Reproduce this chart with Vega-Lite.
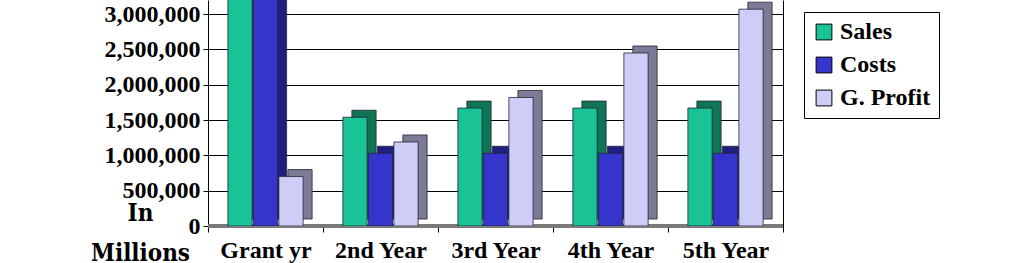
{
  "$schema": "https://vega.github.io/schema/vega-lite/v6.json",
  "width": 575,
  "height": 226,
  "autosize": {"type": "none"},
  "padding": {"left": 208, "top": 0, "right": 241, "bottom": 37},
  "background": "white",
  "config": {"view": {"stroke": null}, "font": "Liberation Serif"},
  "datasets": {
    "rows": [
      {"year": "Grant yr", "series": "Sales", "value": 3600000},
      {"year": "Grant yr", "series": "Costs", "value": 3500000},
      {"year": "Grant yr", "series": "G. Profit", "value": 700000},
      {"year": "2nd Year", "series": "Sales", "value": 1540000},
      {"year": "2nd Year", "series": "Costs", "value": 1030000},
      {"year": "2nd Year", "series": "G. Profit", "value": 1190000},
      {"year": "3rd Year", "series": "Sales", "value": 1670000},
      {"year": "3rd Year", "series": "Costs", "value": 1030000},
      {"year": "3rd Year", "series": "G. Profit", "value": 1820000},
      {"year": "4th Year", "series": "Sales", "value": 1670000},
      {"year": "4th Year", "series": "Costs", "value": 1030000},
      {"year": "4th Year", "series": "G. Profit", "value": 2450000},
      {"year": "5th Year", "series": "Sales", "value": 1670000},
      {"year": "5th Year", "series": "Costs", "value": 1030000},
      {"year": "5th Year", "series": "G. Profit", "value": 3070000}
    ]
  },
  "layer": [
    {
      "data": {"values": [{}]},
      "mark": {"type": "rule", "color": "#7a7a7a", "strokeWidth": 4},
      "encoding": {
        "y": {
          "datum": 0,
          "type": "quantitative",
          "scale": {"domain": [0, 3200000], "nice": false},
          "axis": {"orient": "right", "labels": false, "ticks": false, "grid": false, "domainColor": "black", "title": null}
        }
      }
    },
    {
      "data": {"name": "rows"},
      "mark": {"type": "bar", "clip": true, "yOffset": -7, "y2Offset": 7, "stroke": "#222233", "strokeWidth": 0.8},
      "encoding": {
        "x": {
          "field": "year", "type": "nominal",
          "sort": ["Grant yr", "2nd Year", "3rd Year", "4th Year", "5th Year"],
          "scale": {"paddingInner": 0, "paddingOuter": 0},
          "axis": {"title": null, "labelAngle": 0, "labelFont": "Liberation Serif", "labelFontWeight": "bold", "labelFontSize": 24, "labelColor": "black", "tickBand": "extent", "tickColor": "black", "tickSize": 6, "domainColor": "black", "labelPadding": 6}
        },
        "xOffset": {"field": "series", "type": "nominal", "sort": ["Sales", "Costs", "G. Profit"], "scale": {"range": [9, 124], "paddingInner": 0.05, "paddingOuter": 0.78}},
        "y": {"field": "value", "type": "quantitative", "scale": {"domain": [0, 3200000], "nice": false}, "axis": null},
        "fill": {"field": "series", "type": "nominal", "scale": {"domain": ["Sales", "Costs", "G. Profit"], "range": ["#107556", "#1f1f80", "#7b7b96"]}, "legend": null}
      }
    },
    {
      "data": {"name": "rows"},
      "mark": {"type": "bar", "clip": true, "stroke": "#222233", "strokeWidth": 0.8},
      "encoding": {
        "x": {
          "field": "year", "type": "nominal",
          "sort": ["Grant yr", "2nd Year", "3rd Year", "4th Year", "5th Year"],
          "scale": {"paddingInner": 0, "paddingOuter": 0},
          "axis": {"title": null, "labelAngle": 0, "labelFont": "Liberation Serif", "labelFontWeight": "bold", "labelFontSize": 24, "labelColor": "black", "tickBand": "extent", "tickColor": "black", "tickSize": 6, "domainColor": "black", "labelPadding": 6}
        },
        "xOffset": {"field": "series", "type": "nominal", "sort": ["Sales", "Costs", "G. Profit"], "scale": {"range": [0, 115], "paddingInner": 0.05, "paddingOuter": 0.78}},
        "y": {
          "field": "value", "type": "quantitative",
          "scale": {"domain": [0, 3200000], "nice": false},
          "axis": {
            "orient": "left",
            "values": [0, 500000, 1000000, 1500000, 2000000, 2500000, 3000000],
            "format": ",d",
            "labelFont": "Liberation Serif", "labelFontWeight": "bold", "labelFontSize": 24, "labelColor": "black",
            "grid": true, "gridColor": "black", "gridWidth": 1,
            "tickColor": "black", "tickSize": 5, "labelPadding": 3, "domainColor": "black",
            "title": ["In", "Millions"],
            "titleAngle": 0, "titleX": -68, "titleY": 220, "titleAlign": "center", "titleBaseline": "alphabetic",
            "titleFont": "DejaVu Serif Condensed", "titleFontSize": 24, "titleFontWeight": "bold", "titleLineHeight": 40, "titleColor": "black"
          }
        },
        "fill": {
          "field": "series", "type": "nominal",
          "scale": {"domain": ["Sales", "Costs", "G. Profit"], "range": ["#19c396", "#3535cc", "#cdcdf7"]},
          "legend": {
            "title": null, "orient": "none", "legendX": 596, "legendY": 12,
            "strokeColor": "black", "fillColor": "white", "padding": 8,
            "symbolType": "square", "symbolSize": 250, "symbolStrokeColor": "black", "symbolStrokeWidth": 1,
            "labelFont": "Liberation Serif", "labelFontWeight": "bold", "labelFontSize": 24, "labelColor": "black",
            "rowPadding": 9, "labelLimit": 300
          }
        }
      }
    }
  ],
  "resolve": {"axis": {"y": "independent"}, "scale": {"fill": "independent", "xOffset": "independent"}}
}
